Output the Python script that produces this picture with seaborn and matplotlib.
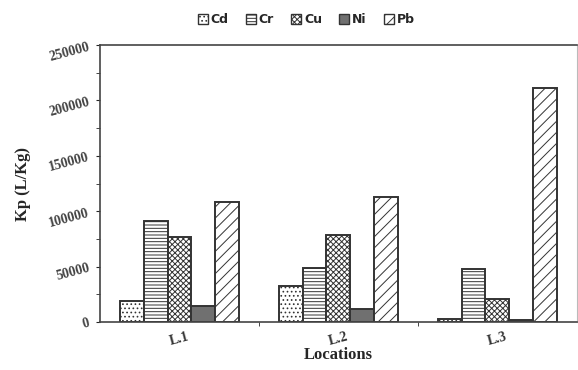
import numpy as np
import pandas as pd
import matplotlib
matplotlib.use("Agg")
import matplotlib.pyplot as plt
import seaborn as sns
from matplotlib.ticker import MultipleLocator, FixedLocator
from matplotlib.patches import Patch

locations = ["L.1", "L.2", "L.3"]
metals = ["Cd", "Cr", "Cu", "Ni", "Pb"]
cd = [19000, 32500, 3000]
cr = [91000, 49000, 47500]
cu = [77000, 78500, 20500]
ni = [14000, 11500, 1500]
pb = [108500, 113000, 211000]

values = {"Cd": cd, "Cr": cr, "Cu": cu, "Ni": ni, "Pb": pb}
rows = []
for m in metals:
    for loc, v in zip(locations, values[m]):
        rows.append({"Location": loc, "Metal": m, "Kp": v})
df = pd.DataFrame(rows)

hatches = {"Cd": "....", "Cr": "-----", "Cu": "xxxxxx", "Ni": "", "Pb": "///"}
fills = {"Cd": "white", "Cr": "white", "Cu": "white", "Ni": "#707070", "Pb": "white"}

sns.set_style("ticks")
plt.rcParams["hatch.linewidth"] = 0.7
plt.rcParams["hatch.color"] = "#666666"

fig = plt.figure(figsize=(5.78, 3.7), dpi=100)
ax = fig.add_axes([0.173, 0.13, 0.825, 0.748])

sns.barplot(data=df, x="Location", y="Kp", hue="Metal", hue_order=metals,
            order=locations, width=0.75, ax=ax, legend=False,
            palette=["white"] * 5, edgecolor="#333333", linewidth=1.4,
            saturation=1)

for cont, m in zip(ax.containers, metals):
    for bar in cont:
        bar.set_facecolor(fills[m])
        bar.set_hatch(hatches[m])
        bar.set_edgecolor("#333333")

ax.set_xlim(-0.5, 2.5)
ax.set_ylim(0, 250000)
ax.yaxis.set_major_locator(MultipleLocator(50000))
ax.yaxis.set_minor_locator(MultipleLocator(25000))
ax.xaxis.set_minor_locator(FixedLocator([0.5, 1.5]))
ax.tick_params(axis="x", which="major", length=0, pad=6)
ax.tick_params(axis="x", which="minor", length=3, direction="out")
ax.tick_params(axis="y", which="both", length=3, direction="out")

serif = ["Liberation Serif", "DejaVu Serif"]
ax.set_xticks(range(len(locations)))
ax.set_xticklabels(locations)
ax.set_yticks(ax.get_yticks())
ax.set_yticklabels([f"{int(v)}" for v in ax.get_yticks()])
for lab in ax.get_xticklabels():
    lab.set_fontfamily(serif)
    lab.set_fontweight("bold")
    lab.set_fontsize(10)
    lab.set_rotation(15)
    lab.set_color("#333333")
for lab in ax.get_yticklabels():
    lab.set_fontfamily(serif)
    lab.set_fontweight("bold")
    lab.set_fontsize(10)
    lab.set_rotation(15)
    lab.set_color("#444444")
ax.set_ylim(0, 250000)

ax.set_xlabel("Locations", family=serif, fontweight="bold", fontsize=12, labelpad=-1)
ax.set_ylabel("Kp (L/Kg)", family=serif, fontweight="bold", fontsize=12, labelpad=12)

for side in ["left", "bottom", "top"]:
    ax.spines[side].set_color("#444444")
    ax.spines[side].set_linewidth(1.2)
ax.spines["right"].set_color("#bbbbbb")
ax.spines["right"].set_linewidth(0.8)

handles = [Patch(facecolor=fills[m], hatch=hatches[m], edgecolor="#333333", label=m)
           for m in metals]
fig.legend(handles=handles, loc="upper center", bbox_to_anchor=(0.53, 0.995), ncol=5,
           frameon=False, handlelength=0.8, handleheight=0.8, handletextpad=0.2,
           columnspacing=1.4, prop={"family": "DejaVu Sans", "weight": "bold", "size": 9})

fig.savefig("out.png", dpi=100)
